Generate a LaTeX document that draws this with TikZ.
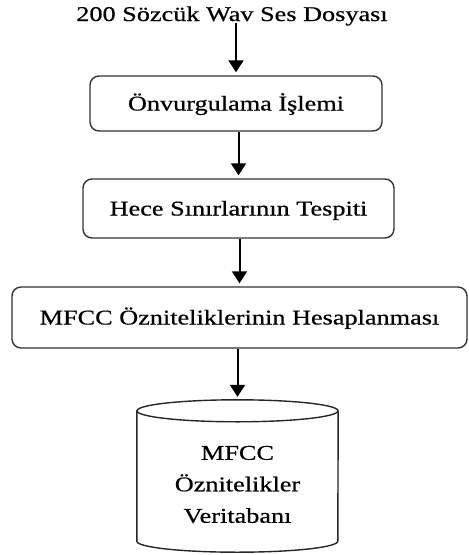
\documentclass[tikz,border=0pt]{standalone}
\usepackage{fontspec}
\setmainfont{Liberation Serif}[FakeStretch=1.25, FakeBold=0.6]
\usetikzlibrary{arrows.meta,calc}

\tikzset{
  stagebox/.style={draw=black!80, line width=1.4pt, rounded corners=9pt,
    inner sep=0pt, text height=14pt, text depth=0pt},
  flowarrow/.style={line width=2pt, shorten >=3pt,
    -{Triangle[width=15pt,length=12pt]}},
  dbline/.style={draw=black!85, line width=1.4pt},
  label/.style={font=\fontsize{21}{31.5}\selectfont}
}

\begin{document}
\begin{tikzpicture}[x=1pt, y=-1pt, label]
  \useasboundingbox (0,0) rectangle (469,555);

  % source files
  \node[inner sep=2pt, text height=14pt, text depth=0pt] (title) at (232,14)
    {200 Sözcük Wav Ses Dosyası};

  % processing stages
  \node[stagebox, minimum width=292pt, minimum height=55pt] (b1) at (236,103.5)
    {Önvurgulama İşlemi};
  \node[stagebox, minimum width=311pt, minimum height=59pt] (b2) at (238.5,208.5)
    {Hece Sınırlarının Tespiti};
  \node[stagebox, minimum width=455pt, minimum height=61pt] (b3) at (239.5,317.5)
    {MFCC Özniteliklerinin Hesaplanması};

  % feature database (cylinder body)
  \node[minimum width=201pt, minimum height=130pt, inner sep=0pt] (db) at (237.5,476) {};
  \draw[dbline] (db.north west) -- (db.south west)
    arc[start angle=180, end angle=360, x radius=100.5pt, y radius=11pt]
    -- (db.north east);
  \draw[dbline] (db.north) ellipse[x radius=100.5pt, y radius=11pt];
  \coordinate (dbtop) at ($(db.north)+(0,-11)$);
  \node[align=center, inner sep=0pt] (dblabel) at (237.5,484.5)
    {MFCC\\Öznitelikler\\Veritabanı};

  % flow
  \draw[flowarrow] (b1.north |- title.south) -- (b1.north);
  \draw[flowarrow] (b2.north |- b1.south) -- (b2.north);
  \draw[flowarrow] (b3.north |- b2.south) -- (b3.north);
  \draw[flowarrow] (b3.south -| dbtop) -- (dbtop);
\end{tikzpicture}
\end{document}
